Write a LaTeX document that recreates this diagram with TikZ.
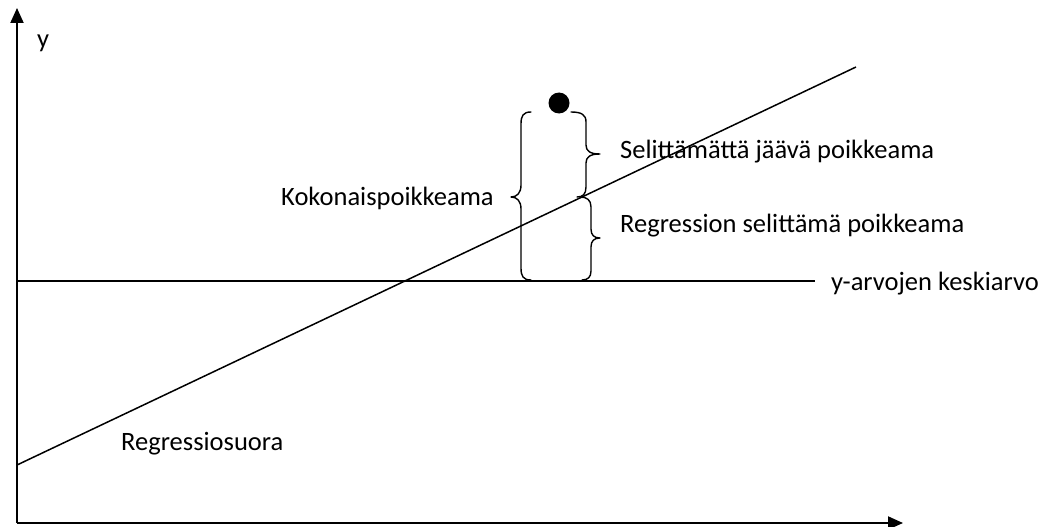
\documentclass[tikz,border=0pt]{standalone}
\usepackage{fontspec}
\setmainfont{Carlito}
\usetikzlibrary{arrows.meta}
\begin{document}
\begin{tikzpicture}[x=1pt,y=-1pt,
  axis/.style={line width=2pt,-{Triangle[length=15pt,width=13pt]}},
  thin/.style={line width=1.5pt},
  bracestyle/.style={line width=1.4pt,line cap=round,line join=round},
  lbl/.style={anchor=base west,inner sep=0pt,font=\fontsize{26.5}{30}\selectfont}]
\useasboundingbox (0,0) rectangle (1050,527);
% coordinates
\coordinate (O) at (17,523);
\coordinate (ytop) at (17,8);
\coordinate (xend) at (903,523);
\coordinate (r1) at (17,465);
\coordinate (r2) at (856,67);
\coordinate (m1) at (17,281);
\coordinate (m2) at (815,281);
% axes
\draw[axis] (O) -- (ytop);
\draw[axis] (O) -- (xend);
% lines
\draw[thin] (r1) -- (r2);
\draw[thin] (m1) -- (m2);
% point
\fill (559,103) circle[radius=10.5];
\node[coordinate] (pt) at (559,103) {};
% braces
\draw[bracestyle] (531,112) .. controls (523,112) and (521,116) .. (521,124)
  -- (521,185) .. controls (521,193) and (517,197) .. (511,197)
  .. controls (517,197) and (521,201) .. (521,209)
  -- (521,268) .. controls (521,276) and (523,280) .. (531,280);
\draw[bracestyle] (571,112) .. controls (582,112) and (586,115) .. (586,122)
  -- (586,145) .. controls (586,151) and (590,154) .. (600,154)
  .. controls (590,154) and (586,157) .. (586,163)
  -- (586,187) .. controls (586,194) and (583,197) .. (577,197);
\draw[bracestyle] (580,197) .. controls (587,197) and (591,200) .. (591,207)
  -- (591,229) .. controls (591,235) and (594,238) .. (600,238)
  .. controls (594,238) and (591,241) .. (591,247)
  -- (591,271) .. controls (591,277) and (588,280) .. (582,280);
% labels
\node[lbl] (ylab) at (37,48) {y};
\node[lbl] (koko) at (281,205) {Kokonaispoikkeama};
\node[lbl] (sel) at (620,158) {Selittämättä jäävä poikkeama};
\node[lbl] (reg) at (620,232) {Regression selittämä poikkeama};
\node[lbl] (kesk) at (831,290) {y-arvojen keskiarvo};
\node[lbl] (rs) at (121,450) {Regressiosuora};
\end{tikzpicture}
\end{document}
